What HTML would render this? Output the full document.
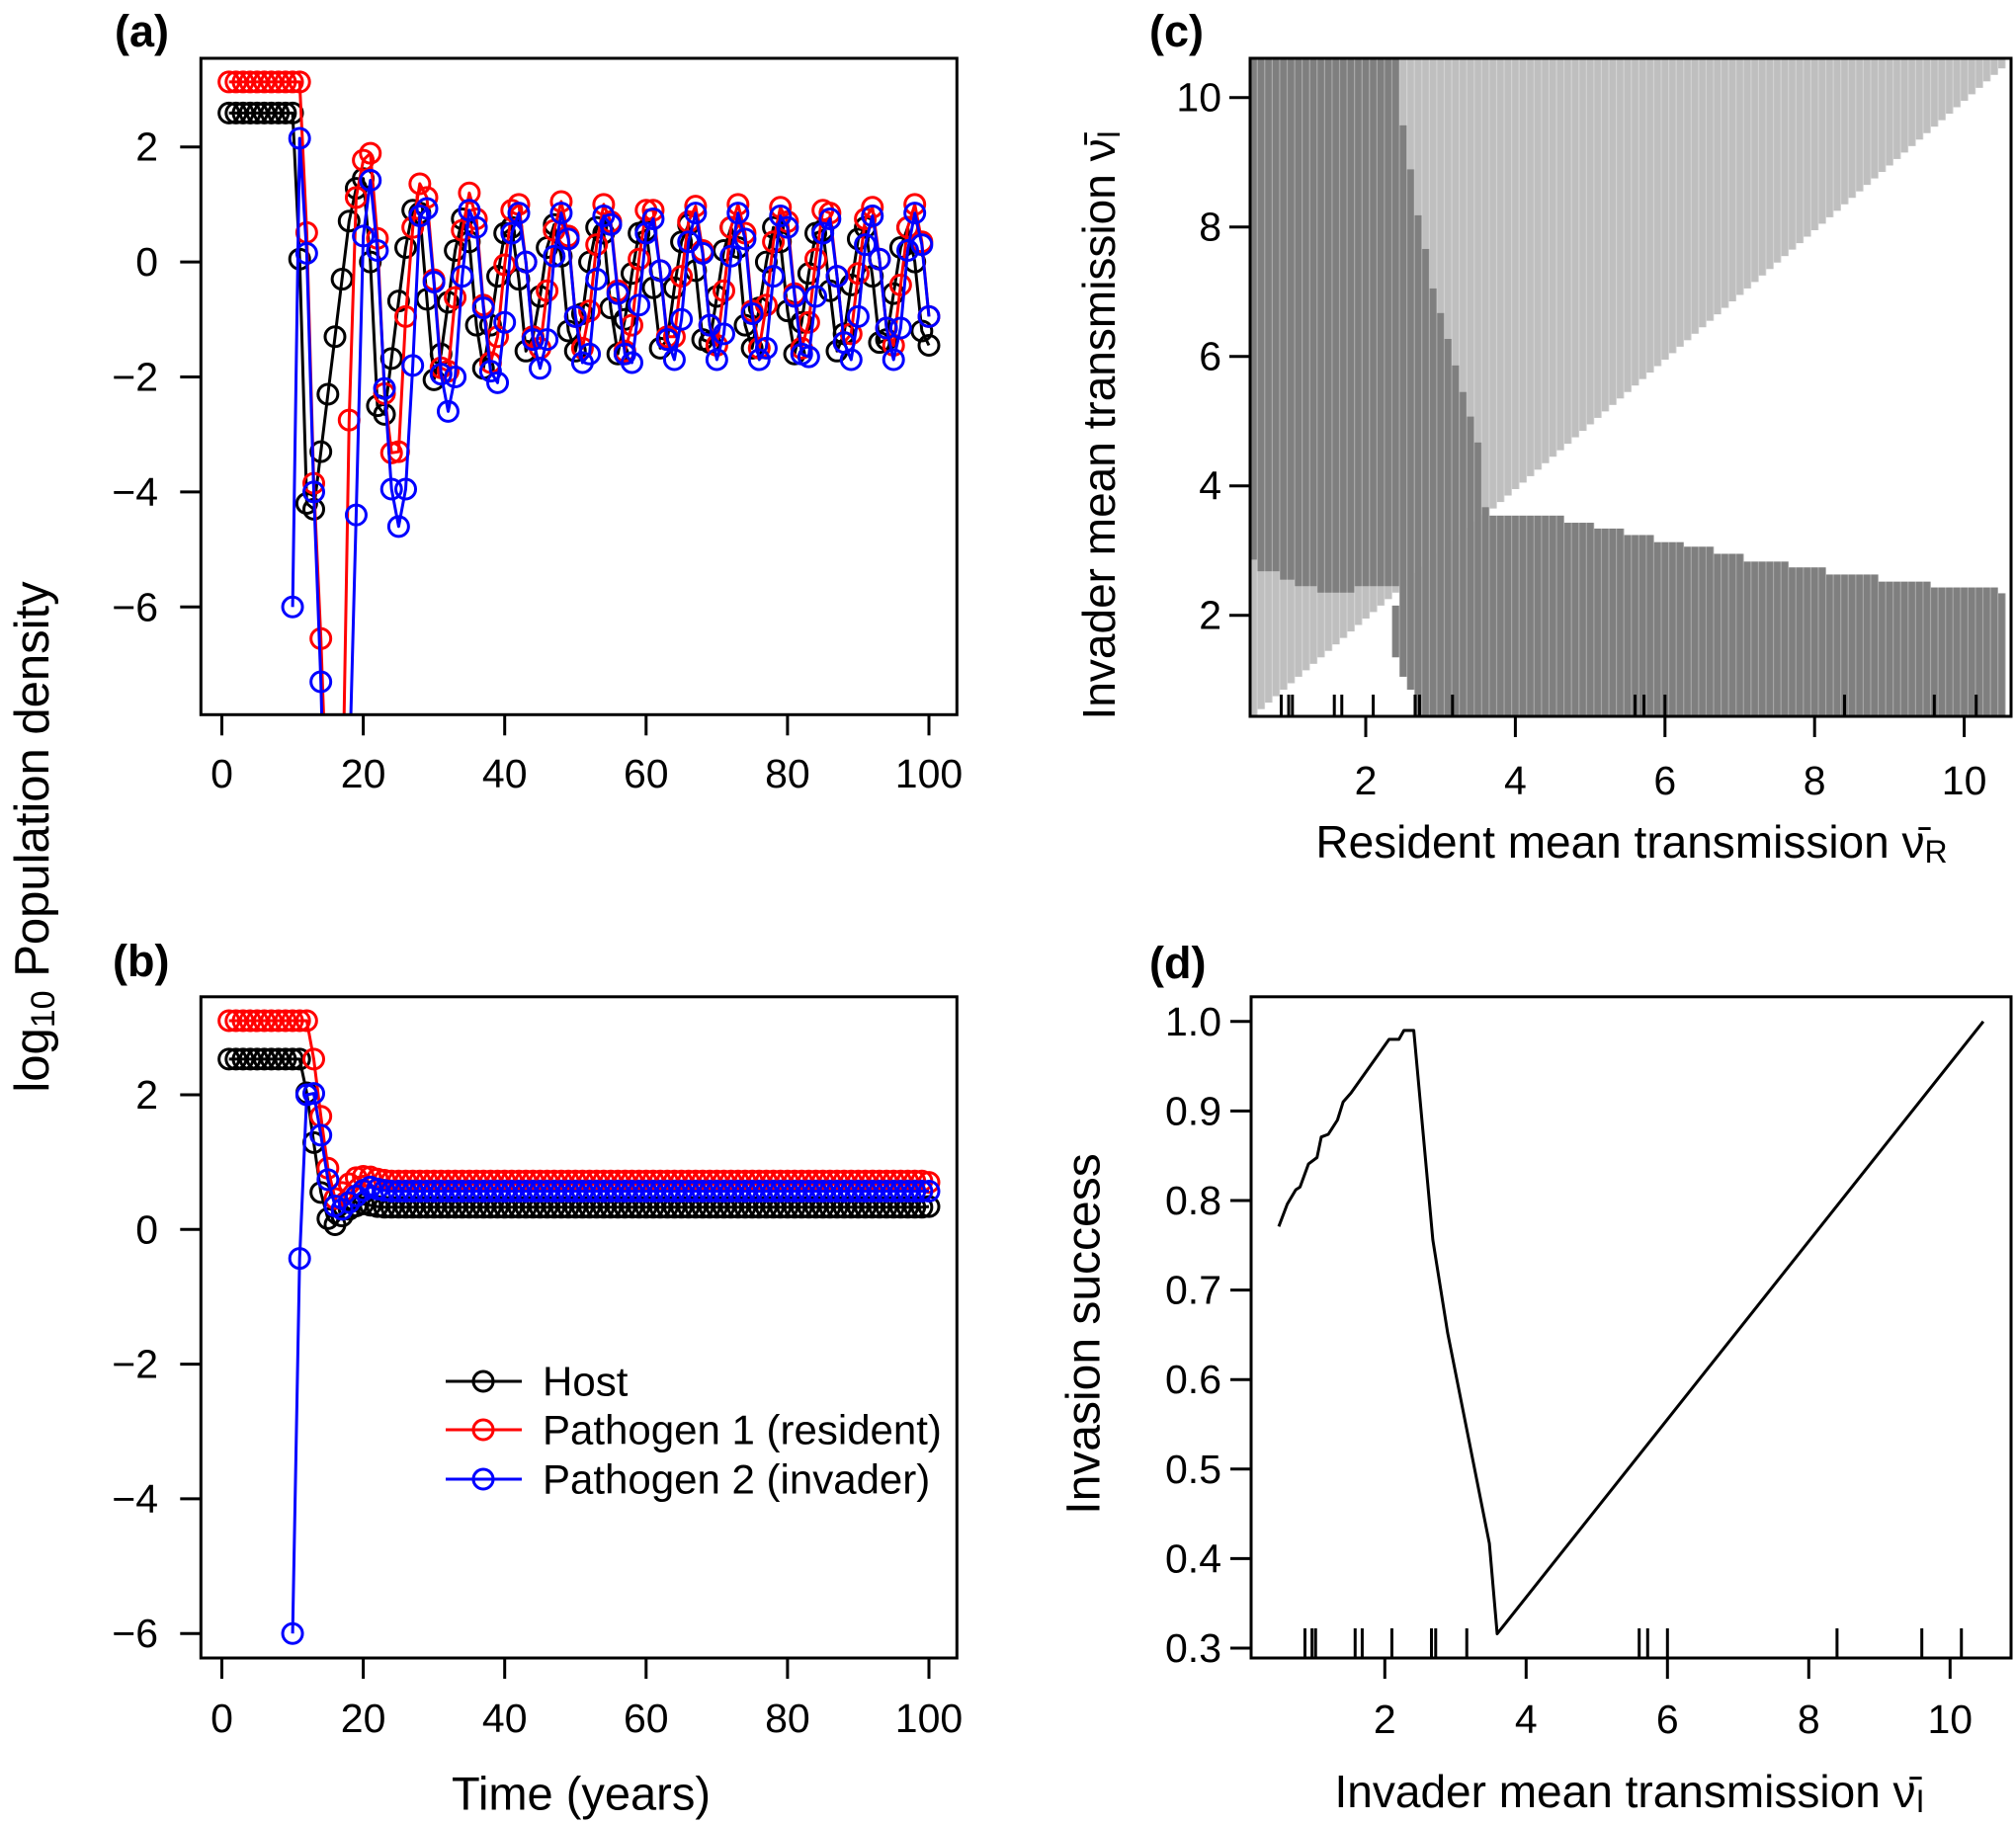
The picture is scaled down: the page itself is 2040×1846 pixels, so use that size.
<!DOCTYPE html>
<html><head><meta charset="utf-8"><style>
html,body{margin:0;padding:0;background:#fff;}
svg{display:block;font-family:"Liberation Sans",Arial,"DejaVu Sans",sans-serif;}
</style></head><body>
<svg id="fig" width="2040" height="1846" viewBox="0 0 2040 1846" xmlns="http://www.w3.org/2000/svg">
<defs>
<clipPath id="clipA"><rect x="203" y="59" width="765" height="664"/></clipPath>
<clipPath id="clipB"><rect x="203" y="1009" width="765" height="669"/></clipPath>
<clipPath id="clipC"><rect x="1265" y="59" width="770" height="666"/></clipPath>
</defs>
<g id="gA"></g>
<g id="gB"></g>
<g id="gC"></g>
<g id="gD"></g>
<text x="116" y="47" font-size="45" font-weight="bold">(a)</text>
<text x="114" y="988" font-size="45" font-weight="bold">(b)</text>
<text x="1163" y="47" font-size="45" font-weight="bold">(c)</text>
<text x="1163" y="990" font-size="45" font-weight="bold">(d)</text>
<text transform="translate(33,847) rotate(-90)" text-anchor="middle" dominant-baseline="central" font-size="49">log<tspan font-size="34" dy="11">10</tspan><tspan dy="-11">  Population density</tspan></text>
<text x="588" y="1815" text-anchor="middle" dominant-baseline="central" font-size="47">Time (years)</text>
<text transform="translate(1112,430) rotate(-90)" text-anchor="middle" dominant-baseline="central" font-size="46">Invader mean transmission ν̄<tspan font-size="32" dy="10">I</tspan></text>
<text x="1651" y="852" text-anchor="middle" dominant-baseline="central" font-size="46">Resident mean transmission ν̄<tspan font-size="32" dy="10">R</tspan></text>
<text transform="translate(1097,1350) rotate(-90)" text-anchor="middle" dominant-baseline="central" font-size="48">Invasion success</text>
<text x="1649" y="1813" text-anchor="middle" dominant-baseline="central" font-size="46">Invader mean transmission ν̄<tspan font-size="32" dy="10">I</tspan></text>
</svg>
<script>
// ---------- DATA ----------
const hostA=[2.59,2.59,2.59,2.59,2.59,2.59,2.59,2.59,2.59,2.59,0.05,-4.2,-4.3,-3.3,-2.3,-1.3,-0.3,0.71,1.28,1.45,0.0,-2.5,-2.65,-1.68,-0.68,0.25,0.9,0.85,-0.65,-2.05,-1.6,-0.7,0.2,0.75,0.35,-1.1,-1.85,-1.1,-0.25,0.5,0.6,-0.3,-1.55,-1.3,-0.6,0.25,0.65,0.1,-1.2,-1.55,-0.9,0.0,0.6,0.5,-0.8,-1.6,-1.0,-0.2,0.5,0.55,-0.45,-1.5,-1.35,-0.45,0.35,0.65,-0.15,-1.35,-1.4,-0.6,0.2,0.6,0.25,-1.1,-1.5,-0.8,0.0,0.6,0.35,-0.85,-1.6,-1.05,-0.2,0.5,0.55,-0.5,-1.55,-1.25,-0.4,0.4,0.6,-0.25,-1.4,-1.35,-0.55,0.25,0.6,0.0,-1.2,-1.45];
const residentA=[3.13,3.13,3.13,3.13,3.13,3.13,3.13,3.13,3.13,3.13,3.13,0.51,-3.85,-6.55,-10,-12,-10,-2.75,1.12,1.77,1.89,0.41,-2.29,-3.32,-3.3,-0.95,0.6,1.36,1.12,-0.31,-1.84,-1.9,-0.62,0.55,1.2,0.75,-0.75,-1.75,-1.3,-0.05,0.9,1.0,0.0,-1.3,-1.5,-0.5,0.55,1.05,0.45,-0.95,-1.5,-0.85,0.3,1.0,0.7,-0.5,-1.55,-1.1,0.05,0.9,0.9,-0.15,-1.3,-1.3,-0.25,0.7,0.97,0.2,-1.1,-1.45,-0.5,0.6,1.0,0.5,-0.85,-1.5,-0.75,0.35,0.95,0.7,-0.55,-1.5,-1.05,0.05,0.9,0.85,-0.25,-1.4,-1.25,-0.2,0.75,0.95,0.05,-1.15,-1.45,-0.4,0.6,1.0,0.35,-0.95];
const invaderA=[null,null,null,null,null,null,null,null,null,-6.0,2.15,0.15,-4.0,-7.3,-12,-14,-12,-9,-4.4,0.45,1.42,0.2,-2.2,-3.95,-4.6,-3.95,-1.8,0.8,0.93,-0.35,-1.95,-2.6,-2.0,-0.25,0.9,0.6,-0.8,-1.9,-2.1,-1.05,0.5,0.85,0.0,-1.35,-1.85,-1.35,0.1,0.85,0.4,-0.95,-1.75,-1.6,-0.3,0.8,0.65,-0.55,-1.6,-1.75,-0.75,0.5,0.75,-0.15,-1.35,-1.7,-1.0,0.35,0.85,0.15,-1.1,-1.7,-1.25,0.1,0.85,0.4,-0.9,-1.7,-1.5,-0.25,0.8,0.6,-0.6,-1.6,-1.65,-0.6,0.5,0.75,-0.25,-1.4,-1.7,-0.95,0.3,0.8,0.05,-1.15,-1.7,-1.15,0.2,0.85,0.3,-0.95];
const hostB=[2.53,2.53,2.53,2.53,2.53,2.53,2.53,2.53,2.53,2.53,2.53,2.03,1.29,0.55,0.16,0.07,0.2,0.3,0.35,0.38,0.36,0.34,0.33,0.33,0.33,0.33,0.33,0.33,0.33,0.33,0.33,0.33,0.33,0.33,0.33,0.33,0.33,0.33,0.33,0.33,0.33,0.33,0.33,0.33,0.33,0.33,0.33,0.33,0.33,0.33,0.33,0.33,0.33,0.33,0.33,0.33,0.33,0.33,0.33,0.33,0.33,0.33,0.33,0.33,0.33,0.33,0.33,0.33,0.33,0.33,0.33,0.33,0.33,0.33,0.33,0.33,0.33,0.33,0.33,0.33,0.33,0.33,0.33,0.33,0.33,0.33,0.33,0.33,0.33,0.33,0.33,0.33,0.33,0.33,0.33,0.33,0.33,0.33,0.33,0.34];
const residentB=[3.1,3.1,3.1,3.1,3.1,3.1,3.1,3.1,3.1,3.1,3.1,3.1,2.53,1.68,0.91,0.46,0.55,0.68,0.77,0.79,0.78,0.75,0.73,0.72,0.72,0.72,0.72,0.72,0.72,0.72,0.72,0.72,0.72,0.72,0.72,0.72,0.72,0.72,0.72,0.72,0.72,0.72,0.72,0.72,0.72,0.72,0.72,0.72,0.72,0.72,0.72,0.72,0.72,0.72,0.72,0.72,0.72,0.72,0.72,0.72,0.72,0.72,0.72,0.72,0.72,0.72,0.72,0.72,0.72,0.72,0.72,0.72,0.72,0.72,0.72,0.72,0.72,0.72,0.72,0.72,0.72,0.72,0.72,0.72,0.72,0.72,0.72,0.72,0.72,0.72,0.72,0.72,0.72,0.72,0.72,0.72,0.72,0.72,0.72,0.7];
const invaderB=[null,null,null,null,null,null,null,null,null,-6.0,-0.43,2.0,2.02,1.4,0.74,0.35,0.3,0.4,0.5,0.58,0.63,0.6,0.58,0.57,0.57,0.57,0.57,0.57,0.57,0.57,0.57,0.57,0.57,0.57,0.57,0.57,0.57,0.57,0.57,0.57,0.57,0.57,0.57,0.57,0.57,0.57,0.57,0.57,0.57,0.57,0.57,0.57,0.57,0.57,0.57,0.57,0.57,0.57,0.57,0.57,0.57,0.57,0.57,0.57,0.57,0.57,0.57,0.57,0.57,0.57,0.57,0.57,0.57,0.57,0.57,0.57,0.57,0.57,0.57,0.57,0.57,0.57,0.57,0.57,0.57,0.57,0.57,0.57,0.57,0.57,0.57,0.57,0.57,0.57,0.57,0.57,0.57,0.57,0.57,0.57];
const timeTicks=[0,20,40,60,80,100];
const yTicksA=[2,0,-2,-4,-6];
const yTicksB=[2,0,-2,-4,-6];
// panel c step boundaries
const leftDarkBreaks=[0.45,0.55,0.85,1.05,1.35,1.9,2.45];
const leftDarkLow=[2.86,2.68,2.55,2.45,2.35,2.45];
const wedgeCenters=[2.5,2.6,2.7,2.8,2.9,3.0,3.1,3.2,3.3,3.4,3.5,3.6];
const wedgeTop=[9.57,8.89,8.18,7.66,7.05,6.67,6.27,5.86,5.45,5.07,4.67,3.67];
const wedgeBottom=[1.05,0.85,0.45,0.45,0.45,0.45,0.45,0.45,0.45,0.45,0.45,0.45];
const rightBreaks=[3.65,4.65,5.05,5.45,5.85,6.25,6.65,7.05,7.65,8.15,8.85,9.55,10.45,10.55];
const rightTop=[3.54,3.43,3.34,3.24,3.13,3.06,2.95,2.83,2.74,2.63,2.52,2.43,2.34];
const isletCenter=[2.4], isletLow=[1.35], isletHigh=[2.15];
const ticksC=[2,4,6,8,10];
const rugValues=[0.87,0.97,1.02,1.58,1.68,2.1,2.66,2.72,3.16,5.6,5.72,6.0,8.4,9.6,10.16];
// panel d
const dTrans=[0.5,0.62,0.74,0.8,0.92,1.04,1.1,1.2,1.33,1.41,1.52,2.06,2.2,2.27,2.41,2.68,2.89,3.48,3.59,10.47];
const dSuccess=[0.771,0.796,0.812,0.815,0.841,0.848,0.871,0.874,0.89,0.91,0.92,0.98,0.98,0.99,0.99,0.756,0.652,0.417,0.316,1.0];
const dTicksX=[2,4,6,8,10];
const dTicksY=[0.3,0.4,0.5,0.6,0.7,0.8,0.9,1.0];

// ---------- SCALES ----------
const xA=t=>224.5+7.155*t, yA=v=>265.1-58.2*v;
const xB=xA, yB=v=>1244.3-68.15*v;
const xC=v=>1382+75.7*(v-2), yC=v=>622.7-65.5*(v-2);
const xD=v=>1401.3+71.5*(v-2), yD=v=>1668-906*(v-0.3);
const NS="http://www.w3.org/2000/svg";
function mk(parent,tag,attrs){const e=document.createElementNS(NS,tag);for(const k in attrs)e.setAttribute(k,attrs[k]);parent.appendChild(e);return e;}
const gA=document.getElementById('gA'),gB=document.getElementById('gB'),gC=document.getElementById('gC'),gD=document.getElementById('gD');
const minus=s=>String(s).replace('-','\u2212');

function axisBox(g,x0,y0,x1,y1){
  const r=mk(g,'rect',{x:x0,y:y0,width:x1-x0,height:y1-y0,fill:'none',stroke:'#000','stroke-width':3});
  
  
}
function xTicks(g,ticks,sx,yb,labY,fmt){
  ticks.forEach(t=>{
    const l=mk(g,'line',{x1:sx(t),x2:sx(t),y1:yb,y2:yb+21,stroke:'#000','stroke-width':3});
    
    
    const tx=mk(g,'text',{x:sx(t),y:labY,'text-anchor':'middle','dominant-baseline':'central','font-size':41});
    tx.textContent=fmt?fmt(t):minus(t);
    
    
  });
}
function yTicks(g,ticks,sy,xl,labX,fmt){
  ticks.forEach(t=>{
    const l=mk(g,'line',{x1:xl,x2:xl-21,y1:sy(t),y2:sy(t),stroke:'#000','stroke-width':3});
    
    
    const tx=mk(g,'text',{x:labX,y:sy(t),'text-anchor':'end','dominant-baseline':'central','font-size':41});
    tx.textContent=fmt?fmt(t):minus(t);
    
    
  });
}
function series(g,clip,vals,sx,sy,color,name){
  const sg=mk(g,'g',{'clip-path':'url(#'+clip+')'});
  
  
  let d='';
  vals.forEach((v,i)=>{if(v===null)return;d+=(d?'L':'M')+sx(i+1).toFixed(1)+' '+sy(v).toFixed(1);});
  const p=mk(sg,'path',{d:d,fill:'none',stroke:color,'stroke-width':3,'stroke-linejoin':'round'});
  
  
  vals.forEach((v,i)=>{if(v===null)return;
    const c=mk(sg,'circle',{cx:sx(i+1),cy:sy(v),r:10,fill:'none',stroke:color,'stroke-width':3});
    
    
  });
}
// ---------- PANEL A ----------
series(gA,'clipA',hostA,xA,yA,'#000','host-series');
series(gA,'clipA',residentA,xA,yA,'#ff0000','pathogen1-series');
series(gA,'clipA',invaderA,xA,yA,'#0000ff','pathogen2-series');
axisBox(gA,203.3,59,968.3,723.3);
xTicks(gA,timeTicks,xA,723.3,783);
yTicks(gA,yTicksA,yA,203.3,160);
// ---------- PANEL B ----------
series(gB,'clipB',hostB,xB,yB,'#000','host-series');
series(gB,'clipB',residentB,xB,yB,'#ff0000','pathogen1-series');
series(gB,'clipB',invaderB,xB,yB,'#0000ff','pathogen2-series');
axisBox(gB,203.3,1008.8,968.3,1678);
xTicks(gB,timeTicks,xB,1678,1739);
yTicks(gB,yTicksB,yB,203.3,160);
const legendLabels=['Host','Pathogen 1 (resident)','Pathogen 2 (invader)'];
const legendColors=['#000','#ff0000','#0000ff'];
const legendY=[1398,1447,1497];
legendLabels.forEach((lab,i)=>{
  const lg=mk(gB,'g',{});
  
  
  mk(lg,'line',{x1:451,x2:528,y1:legendY[i],y2:legendY[i],stroke:legendColors[i],'stroke-width':3});
  mk(lg,'circle',{cx:489,cy:legendY[i],r:10,fill:'none',stroke:legendColors[i],'stroke-width':3});
  const t=mk(lg,'text',{x:549,y:legendY[i],'dominant-baseline':'central','font-size':42});
  t.textContent=lab;
});
// ---------- PANEL C ----------
function stepVal(breaks,vals,v){for(let i=0;i<vals.length;i++){if(v>=breaks[i]&&v<breaks[i+1])return vals[i];}return null;}
const hc=mk(gC,'g',{'clip-path':'url(#clipC)'});


const cw=75.7*0.1;
function cell(v,lo,hi,col,name){
  const r=mk(hc,'rect',{x:xC(v-0.05),y:yC(hi),width:cw+0.3,height:Math.max(0,yC(lo)-yC(hi)),fill:col});
  
  
}
for(let i=0;i<=100;i++){
  const v=Math.round((0.5+i*0.1)*100)/100;
  cell(v,v-0.05,10.65,'#bfbfbf','heatmap-cell-light');
  const ll=stepVal(leftDarkBreaks,leftDarkLow,v);
  if(ll!==null) cell(v,ll,10.65,'#7f7f7f','heatmap-cell-dark');
  const wi=wedgeCenters.findIndex(c=>Math.abs(c-v)<0.01);
  if(wi>=0) cell(v,wedgeBottom[wi],wedgeTop[wi],'#7f7f7f','heatmap-cell-dark');
  const ii=isletCenter.findIndex(c=>Math.abs(c-v)<0.01);
  if(ii>=0) cell(v,isletLow[ii],isletHigh[ii],'#7f7f7f','heatmap-cell-dark');
  const rt=stepVal(rightBreaks,rightTop,v);
  if(rt!==null) cell(v,0.3,rt,'#7f7f7f','heatmap-cell-dark');
}
for(let i=0;i<=101;i++){
  const x=xC(0.45+i*0.1);
  const l=mk(hc,'line',{x1:x,x2:x,y1:59,y2:725,stroke:'#fff','stroke-opacity':0.3,'stroke-width':1.2});
  
  
}
rugValues.forEach(v=>{
  const l=mk(gC,'line',{x1:xC(v),x2:xC(v),y1:725,y2:703,stroke:'#000','stroke-width':3});
  
  
});
axisBox(gC,1265,59,2035,725);
xTicks(gC,ticksC,xC,725,790);
yTicks(gC,ticksC,yC,1265,1236);
// ---------- PANEL D ----------
let dd='';
dTrans.forEach((v,i)=>{dd+=(i?'L':'M')+xD(v).toFixed(1)+' '+yD(dSuccess[i]).toFixed(1);});
const dl=mk(gD,'path',{d:dd,fill:'none',stroke:'#000','stroke-width':3,'stroke-linejoin':'round'});


rugValues.forEach(v=>{
  const l=mk(gD,'line',{x1:xD(v),x2:xD(v),y1:1678,y2:1648,stroke:'#000','stroke-width':3});
  
  
});
axisBox(gD,1266,1008.8,2035,1678);
xTicks(gD,dTicksX,xD,1678,1740);
yTicks(gD,dTicksY,yD,1266,1236,t=>t.toFixed(1));
</script>
</body></html>
